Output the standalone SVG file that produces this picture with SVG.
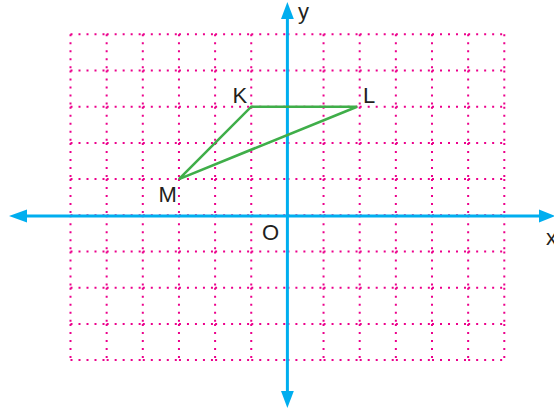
<svg xmlns="http://www.w3.org/2000/svg" width="554" height="410" viewBox="0 0 554 410">
<style>
.grid{fill:none;stroke:#ec008c;stroke-width:2;stroke-dasharray:2 6}
.axis{stroke:#00aeef;stroke-width:3;fill:none}
.ah{fill:#00aeef}
.tri{fill:none;stroke:#3fae49;stroke-width:2.6;stroke-linejoin:miter}
text{font-family:"Liberation Sans",Arial,sans-serif;font-size:22px;fill:#231f20}
</style>
<rect width="554" height="410" fill="#fff"/>
<g id="grid">
<path class="grid" d="M70.5 34.3h36.15m0 0h36.15m0 0h36.15m0 0h36.15m0 0h36.15m0 0h36.15m0 0h36.15m0 0h36.15m0 0h36.15m0 0h36.15m0 0h36.15m0 0h36.15"/>
<path class="grid" d="M70.5 70.5h36.15m0 0h36.15m0 0h36.15m0 0h36.15m0 0h36.15m0 0h36.15m0 0h36.15m0 0h36.15m0 0h36.15m0 0h36.15m0 0h36.15m0 0h36.15"/>
<path class="grid" d="M70.5 106.7h36.15m0 0h36.15m0 0h36.15m0 0h36.15m0 0h36.15m0 0h36.15m0 0h36.15m0 0h36.15m0 0h36.15m0 0h36.15m0 0h36.15m0 0h36.15"/>
<path class="grid" d="M70.5 142.9h36.15m0 0h36.15m0 0h36.15m0 0h36.15m0 0h36.15m0 0h36.15m0 0h36.15m0 0h36.15m0 0h36.15m0 0h36.15m0 0h36.15m0 0h36.15"/>
<path class="grid" d="M70.5 179.1h36.15m0 0h36.15m0 0h36.15m0 0h36.15m0 0h36.15m0 0h36.15m0 0h36.15m0 0h36.15m0 0h36.15m0 0h36.15m0 0h36.15m0 0h36.15"/>
<path class="grid" d="M70.5 215.3h36.15m0 0h36.15m0 0h36.15m0 0h36.15m0 0h36.15m0 0h36.15m0 0h36.15m0 0h36.15m0 0h36.15m0 0h36.15m0 0h36.15m0 0h36.15"/>
<path class="grid" d="M70.5 251.5h36.15m0 0h36.15m0 0h36.15m0 0h36.15m0 0h36.15m0 0h36.15m0 0h36.15m0 0h36.15m0 0h36.15m0 0h36.15m0 0h36.15m0 0h36.15"/>
<path class="grid" d="M70.5 287.7h36.15m0 0h36.15m0 0h36.15m0 0h36.15m0 0h36.15m0 0h36.15m0 0h36.15m0 0h36.15m0 0h36.15m0 0h36.15m0 0h36.15m0 0h36.15"/>
<path class="grid" d="M70.5 323.9h36.15m0 0h36.15m0 0h36.15m0 0h36.15m0 0h36.15m0 0h36.15m0 0h36.15m0 0h36.15m0 0h36.15m0 0h36.15m0 0h36.15m0 0h36.15"/>
<path class="grid" d="M70.5 360.1h36.15m0 0h36.15m0 0h36.15m0 0h36.15m0 0h36.15m0 0h36.15m0 0h36.15m0 0h36.15m0 0h36.15m0 0h36.15m0 0h36.15m0 0h36.15"/>
<path class="grid" d="M70.5 34.3v36.2m0 0v36.2m0 0v36.2m0 0v36.2m0 0v36.2m0 0v36.2m0 0v36.2m0 0v36.2m0 0v36.2"/>
<path class="grid" d="M106.65 34.3v36.2m0 0v36.2m0 0v36.2m0 0v36.2m0 0v36.2m0 0v36.2m0 0v36.2m0 0v36.2m0 0v36.2"/>
<path class="grid" d="M142.8 34.3v36.2m0 0v36.2m0 0v36.2m0 0v36.2m0 0v36.2m0 0v36.2m0 0v36.2m0 0v36.2m0 0v36.2"/>
<path class="grid" d="M178.95 34.3v36.2m0 0v36.2m0 0v36.2m0 0v36.2m0 0v36.2m0 0v36.2m0 0v36.2m0 0v36.2m0 0v36.2"/>
<path class="grid" d="M215.1 34.3v36.2m0 0v36.2m0 0v36.2m0 0v36.2m0 0v36.2m0 0v36.2m0 0v36.2m0 0v36.2m0 0v36.2"/>
<path class="grid" d="M251.25 34.3v36.2m0 0v36.2m0 0v36.2m0 0v36.2m0 0v36.2m0 0v36.2m0 0v36.2m0 0v36.2m0 0v36.2"/>
<path class="grid" d="M323.55 34.3v36.2m0 0v36.2m0 0v36.2m0 0v36.2m0 0v36.2m0 0v36.2m0 0v36.2m0 0v36.2m0 0v36.2"/>
<path class="grid" d="M359.7 34.3v36.2m0 0v36.2m0 0v36.2m0 0v36.2m0 0v36.2m0 0v36.2m0 0v36.2m0 0v36.2m0 0v36.2"/>
<path class="grid" d="M395.85 34.3v36.2m0 0v36.2m0 0v36.2m0 0v36.2m0 0v36.2m0 0v36.2m0 0v36.2m0 0v36.2m0 0v36.2"/>
<path class="grid" d="M432 34.3v36.2m0 0v36.2m0 0v36.2m0 0v36.2m0 0v36.2m0 0v36.2m0 0v36.2m0 0v36.2m0 0v36.2"/>
<path class="grid" d="M468.15 34.3v36.2m0 0v36.2m0 0v36.2m0 0v36.2m0 0v36.2m0 0v36.2m0 0v36.2m0 0v36.2m0 0v36.2"/>
<path class="grid" d="M504.3 34.3v36.2m0 0v36.2m0 0v36.2m0 0v36.2m0 0v36.2m0 0v36.2m0 0v36.2m0 0v36.2m0 0v36.2"/>
</g>
<g id="axes">
<line class="axis" x1="25" y1="216" x2="540" y2="216"/>
<line class="axis" x1="287.4" y1="17" x2="287.4" y2="393"/>
<polygon class="ah" points="9,216 27,209.5 27,222.5"/>
<polygon class="ah" points="555,216 539,209.5 539,222.5"/>
<polygon class="ah" points="287.4,2 281,19 293.8,19"/>
<polygon class="ah" points="287.4,408 281,391 293.8,391"/>
</g>
<g id="triangle">
<polygon class="tri" points="251.25,106.7 357,106.7 178.95,179.1"/>
</g>
<g id="labels">
<text x="298" y="19">y</text>
<text x="232.5" y="103">K</text>
<text x="363" y="103">L</text>
<text x="158.5" y="201.5">M</text>
<text x="262" y="239.5">O</text>
<text x="546" y="245">x</text>
</g>
</svg>
